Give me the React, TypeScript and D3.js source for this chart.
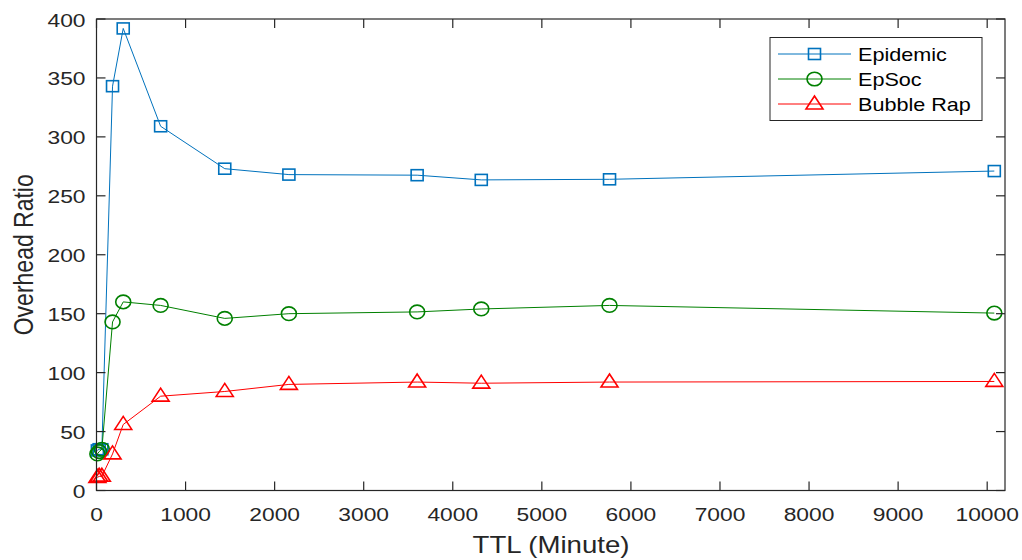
import React from "react";
import * as d3 from "d3";

const ttl = [10, 30, 60, 180, 300, 720, 1440, 2160, 3600, 4320, 5760, 10080];
const epidemic = [34, 35, 35, 343, 392, 309, 273, 268, 267.5, 263.5, 264, 271];
const epsoc = [31, 33, 35, 143, 160, 157, 146, 150, 151.5, 154, 157, 150.5];
const bubbleRap = [11, 12, 12, 31, 56, 80, 84, 90, 92, 91, 92, 92.5];
const xTicks = [0, 1000, 2000, 3000, 4000, 5000, 6000, 7000, 8000, 9000, 10000];
const yTicks = [0, 50, 100, 150, 200, 250, 300, 350, 400];
const seriesNames = ["Epidemic", "EpSoc", "Bubble Rap"];
const seriesColors = ["#0072BD", "#008000", "#FF0000"];
const seriesMarkers = ["square", "circle", "triangle"];

const W = 1022, H = 560;
const L = 96.5, R = 1005, T = 19, B = 490.5;
const FONT = "Liberation Sans, Arial, sans-serif";
const SX = 1.2;

function Marker({ type, x, y, color }: { type: string; x: number; y: number; color: string }) {
  if (type === "square") {
    return <rect x={x - 6} y={y - 5.5} width={12} height={11} fill="none" stroke={color} strokeWidth={1.6} />;
  }
  if (type === "circle") {
    return <ellipse cx={x} cy={y} rx={7.5} ry={6.8} fill="none" stroke={color} strokeWidth={1.6} />;
  }
  const h = 13, w = 17;
  const pts = `${x},${y - h * 0.62} ${x - w / 2},${y + h * 0.38} ${x + w / 2},${y + h * 0.38}`;
  return <polygon points={pts} fill="none" stroke={color} strokeWidth={1.6} />;
}

function SText({ x, y, anchor, size, children, fill }: { x: number; y: number; anchor?: string; size: number; children: any; fill?: string }) {
  return (
    <text transform={`translate(${x},${y}) scale(${SX},1)`} textAnchor={anchor || "start"} fontFamily={FONT} fontSize={size} fill={fill || "#262626"}>
      {children}
    </text>
  );
}

export default function App() {
  const x = d3.scaleLinear().domain([0, 10200]).range([L, R]);
  const y = d3.scaleLinear().domain([0, 400]).range([B, T]);
  const data = [epidemic, epsoc, bubbleRap];
  const line = d3.line<[number, number]>().x((d) => x(d[0])).y((d) => y(d[1]));
  const axisColor = "#262626";
  const tickLen = 9;

  return (
    <svg width={W} height={H} style={{ position: "absolute", left: 0, top: 0, background: "#fff" }}>
      <rect x={0} y={0} width={W} height={H} fill="#fff" />
      {data.map((vals, si) => (
        <g key={si}>
          <path d={line(ttl.map((t, i) => [t, vals[i]]) as [number, number][]) || ""} fill="none" stroke={seriesColors[si]} strokeWidth={1} />
          {ttl.map((t, i) => (
            <Marker key={i} type={seriesMarkers[si]} x={x(t)} y={y(vals[i])} color={seriesColors[si]} />
          ))}
        </g>
      ))}
      <rect x={L} y={T} width={R - L} height={B - T} fill="none" stroke={axisColor} strokeWidth={1.2} />
      {xTicks.map((t) => (
        <g key={"x" + t}>
          <line x1={x(t)} x2={x(t)} y1={B} y2={B - tickLen} stroke={axisColor} strokeWidth={1.2} />
          <line x1={x(t)} x2={x(t)} y1={T} y2={T + tickLen} stroke={axisColor} strokeWidth={1.2} />
          <SText x={x(t)} y={B + 30.5} anchor="middle" size={19}>{t}</SText>
        </g>
      ))}
      {yTicks.map((t) => (
        <g key={"y" + t}>
          <line x1={L} x2={L + tickLen} y1={y(t)} y2={y(t)} stroke={axisColor} strokeWidth={1.2} />
          <line x1={R} x2={R - tickLen} y1={y(t)} y2={y(t)} stroke={axisColor} strokeWidth={1.2} />
          <SText x={L - 11} y={y(t) + 7.5} anchor="end" size={19}>{t}</SText>
        </g>
      ))}
      <SText x={551} y={553} anchor="middle" size={23}>TTL (Minute)</SText>
      <text transform={`translate(33, ${(T + B) / 2}) rotate(-90) scale(1,${SX})`} textAnchor="middle" fontFamily={FONT} fontSize={23} fill={axisColor}>Overhead Ratio</text>
      <rect x={770} y={37.5} width={212} height={83} fill="#fff" stroke={axisColor} strokeWidth={1} />
      {seriesNames.map((n, i) => {
        const ly = 54 + i * 25;
        return (
          <g key={n}>
            <line x1={778} x2={851} y1={ly} y2={ly} stroke={seriesColors[i]} strokeWidth={1} />
            <Marker type={seriesMarkers[i]} x={814.5} y={ly} color={seriesColors[i]} />
            <SText x={858} y={ly + 7} size={18} fill="#000">{n}</SText>
          </g>
        );
      })}
    </svg>
  );
}
